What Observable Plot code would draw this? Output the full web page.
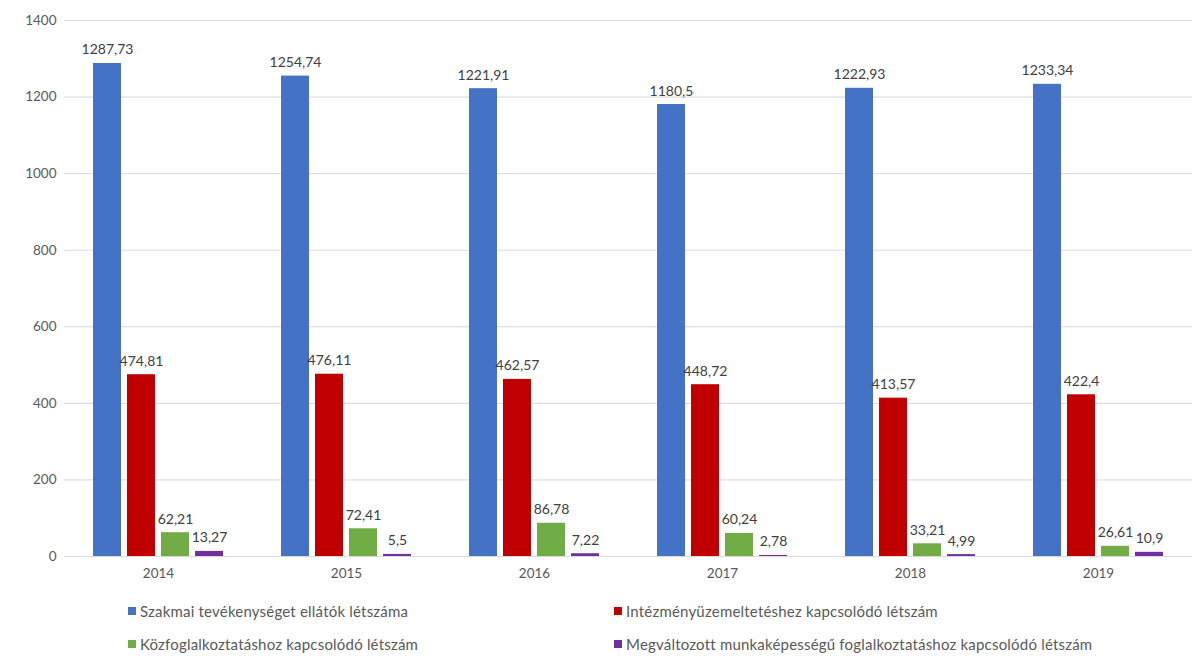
<!DOCTYPE html>
<html>
<head>
<meta charset="utf-8">
<script src="https://cdn.jsdelivr.net/npm/d3@7"></script>
<script src="https://cdn.jsdelivr.net/npm/@observablehq/plot@0.6"></script>
<style>
  body { margin: 0; background: #fff; font-family: Lato, "Open Sans", sans-serif; }
  #legend { position: relative; height: 76px; font-size: 15px; letter-spacing: 0.2px; color: #595959; }
  .item { position: absolute; display: flex; align-items: center; white-space: nowrap; }
  .sw { width: 8px; height: 8px; margin-right: 4px; display: inline-block; }
</style>
</head>
<body>
<div id="chart"></div>
<div id="legend"></div>
<script>
const years = ["2014", "2015", "2016", "2017", "2018", "2019"];
const series = [
  "Szakmai tevékenységet ellátók létszáma",
  "Intézményüzemeltetéshez kapcsolódó létszám",
  "Közfoglalkoztatáshoz kapcsolódó létszám",
  "Megváltozott munkaképességű foglalkoztatáshoz kapcsolódó létszám"
];
const colors = ["#4472C4", "#C00000", "#70AD47", "#7030A0"];
const szakmai = [1287.73, 1254.74, 1221.91, 1180.5, 1222.93, 1233.34];
const intezmeny = [474.81, 476.11, 462.57, 448.72, 413.57, 422.4];
const kozfog = [62.21, 72.41, 86.78, 60.24, 33.21, 26.61];
const megvalt = [13.27, 5.5, 7.22, 2.78, 4.99, 10.9];
const yTicks = [0, 200, 400, 600, 800, 1000, 1200, 1400];

const values = [szakmai, intezmeny, kozfog, megvalt];
const data = [];
years.forEach((y, i) => series.forEach((s, j) => data.push({year: y, series: s, value: values[j][i]})));
const fmt = v => String(v).replace(".", ",");

const chart = Plot.plot({
  width: 1203,
  height: 590,
  marginLeft: 63,
  marginRight: 11,
  marginTop: 20,
  marginBottom: 34,
  style: {fontFamily: "Lato, 'Open Sans', sans-serif", fontSize: "13.5px", color: "#595959", background: "#fff"},
  fx: {domain: years, paddingInner: 0, paddingOuter: 0, label: null},
  x: {domain: series, paddingInner: 0.18, paddingOuter: 0.78, axis: null},
  y: {domain: [0, 1400], label: null},
  color: {domain: series, range: colors},
  marks: [
    Plot.gridY(yTicks, {stroke: "#d9d9d9", strokeOpacity: 1}),
    Plot.axisY(yTicks, {tickSize: 0, tickPadding: 8, fill: "#595959", label: null, tickFormat: d => String(d)}),
    Plot.axisFx({anchor: "bottom", tickSize: 0, tickPadding: 12, fill: "#595959", label: null}),
    Plot.barY(data, {fx: "year", x: "series", y: "value", fill: "series"}),
    Plot.text(data, {fx: "year", x: "series", y: "value", text: d => fmt(d.value), lineAnchor: "bottom", dy: -9, fill: "#404040", fontSize: 14})
  ]
});
document.getElementById("chart").appendChild(chart);

const pos = [[128, 12], [614, 12], [128, 45], [614, 45]];
const leg = document.getElementById("legend");
series.forEach((s, i) => {
  const d = document.createElement("div");
  d.className = "item";
  d.style.left = pos[i][0] + "px";
  d.style.top = pos[i][1] + "px";
  d.innerHTML = `<span class="sw" style="background:${colors[i]}"></span><span>${s}</span>`;
  leg.appendChild(d);
});
</script>
</body>
</html>
